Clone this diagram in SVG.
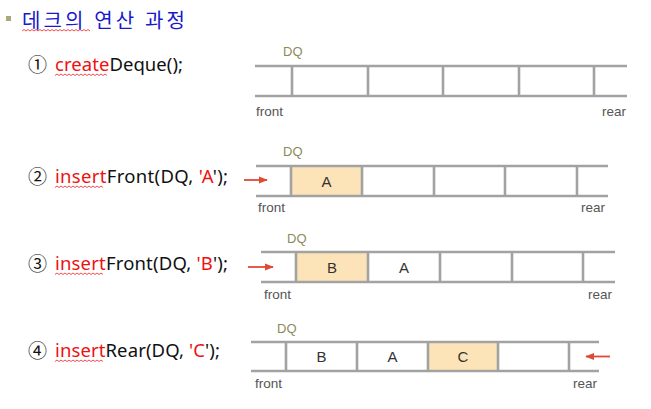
<svg xmlns="http://www.w3.org/2000/svg" width="651" height="409" viewBox="0 0 651 409">
<defs>
<style>
.ln{stroke:#a2a2a2;stroke-width:2.6;fill:none}
.fill{fill:#fde4b8}
.cell{font-family:"Liberation Sans",Arial,sans-serif;font-size:15px;fill:#333;text-anchor:middle}
.dq{font-family:"Liberation Sans",Arial,sans-serif;font-size:13px;fill:#8b8b5a}
.lab{font-family:"Liberation Sans",Arial,sans-serif;font-size:13.5px;fill:#555}
.code{font-family:"Noto Sans","Noto Sans CJK KR",sans-serif;font-size:18.5px;fill:#111}
.num{font-family:"Noto Sans CJK KR","DejaVu Sans",sans-serif;font-size:19px;fill:#111}
.red{fill:#ee1111}
.sq{stroke:#ee2222;stroke-width:0.8;fill:none}
.arr{stroke:#e04a35;stroke-width:1.8;fill:none}
</style>
<marker id="ah" viewBox="0 0 10 10" refX="9" refY="5" markerWidth="5" markerHeight="5" orient="auto">
<path d="M0,1 L10,5 L0,9 Z" fill="#e04a35"/>
</marker>
</defs>
<rect width="651" height="409" fill="#fff"/>

<g id="title">
<rect x="6" y="16" width="5" height="5" fill="#a9a97a"/>
<text x="22" y="28" font-family="Noto Sans CJK KR,sans-serif" font-size="20" fill="#1818cc" textLength="163" lengthAdjust="spacing">데크의 연산 과정</text>
<path class="sq" d="M22,31 l2,-1.5 l2,1.5 l2,-1.5 l2,1.5 l2,-1.5 l2,1.5 l2,-1.5 l2,1.5 l2,-1.5 l2,1.5 l2,-1.5 l2,1.5 l2,-1.5 l2,1.5 l2,-1.5 l2,1.5 l2,-1.5 l2,1.5 l2,-1.5 l2,1.5 l2,-1.5 l2,1.5 l2,-1.5 l2,1.5 l2,-1.5 l2,1.5 l2,-1.5 l2,1.5 l2,-1.5 l2,1.5 l2,-1.5 l2,1.5 l2,-1.5 l2,1.5"/>
</g>

<g id="step1-label">
<text class="num" x="28" y="72">①</text>
<text class="code" x="55" y="71" textLength="128" lengthAdjust="spacing"><tspan class="red">create</tspan>Deque();</text>
<path class="sq" d="M55,75.5 l2,-1.5 l2,1.5 l2,-1.5 l2,1.5 l2,-1.5 l2,1.5 l2,-1.5 l2,1.5 l2,-1.5 l2,1.5 l2,-1.5 l2,1.5 l2,-1.5 l2,1.5 l2,-1.5 l2,1.5 l2,-1.5 l2,1.5 l2,-1.5 l2,1.5 l2,-1.5 l2,1.5 l2,-1.5 l2,1.5 l2,-1.5 l2,1.5"/>
</g>
<g id="step2-label">
<text class="num" x="28" y="184">②</text>
<text class="code" x="55" y="183" textLength="173" lengthAdjust="spacing"><tspan class="red">insert</tspan>Front(DQ, <tspan class="red">'A</tspan>');</text>
<path class="sq" d="M55,187.5 l2,-1.5 l2,1.5 l2,-1.5 l2,1.5 l2,-1.5 l2,1.5 l2,-1.5 l2,1.5 l2,-1.5 l2,1.5 l2,-1.5 l2,1.5 l2,-1.5 l2,1.5 l2,-1.5 l2,1.5 l2,-1.5 l2,1.5 l2,-1.5 l2,1.5 l2,-1.5 l2,1.5 l2,-1.5 l2,1.5"/>
</g>
<g id="step3-label">
<text class="num" x="28" y="271">③</text>
<text class="code" x="55" y="270" textLength="173" lengthAdjust="spacing"><tspan class="red">insert</tspan>Front(DQ, <tspan class="red">'B</tspan>');</text>
<path class="sq" d="M55,274.5 l2,-1.5 l2,1.5 l2,-1.5 l2,1.5 l2,-1.5 l2,1.5 l2,-1.5 l2,1.5 l2,-1.5 l2,1.5 l2,-1.5 l2,1.5 l2,-1.5 l2,1.5 l2,-1.5 l2,1.5 l2,-1.5 l2,1.5 l2,-1.5 l2,1.5 l2,-1.5 l2,1.5 l2,-1.5 l2,1.5"/>
</g>
<g id="step4-label">
<text class="num" x="28" y="358">④</text>
<text class="code" x="55" y="357" textLength="165" lengthAdjust="spacing"><tspan class="red">insert</tspan>Rear(DQ, <tspan class="red">'C</tspan>');</text>
<path class="sq" d="M55,361.5 l2,-1.5 l2,1.5 l2,-1.5 l2,1.5 l2,-1.5 l2,1.5 l2,-1.5 l2,1.5 l2,-1.5 l2,1.5 l2,-1.5 l2,1.5 l2,-1.5 l2,1.5 l2,-1.5 l2,1.5 l2,-1.5 l2,1.5 l2,-1.5 l2,1.5 l2,-1.5 l2,1.5 l2,-1.5 l2,1.5"/>
</g>

<g id="deque1">
<text class="dq" x="283" y="56">DQ</text>
<path class="ln" d="M255,66 H627 M255,96 H627 M292,66 V96 M368,66 V96 M443,66 V96 M519,66 V96 M594,66 V96"/>
<text class="lab" x="256" y="116">front</text>
<text class="lab" x="626" y="116" text-anchor="end">rear</text>
</g>

<g id="deque2">
<text class="dq" x="283" y="156">DQ</text>
<rect class="fill" x="291" y="166" width="71" height="30"/>
<path class="ln" d="M256,166 H608 M256,196 H608 M291,166 V196 M362,166 V196 M434,166 V196 M505,166 V196 M577,166 V196"/>
<text class="cell" x="326.5" y="186.5">A</text>
<text class="lab" x="258" y="212">front</text>
<text class="lab" x="605" y="212" text-anchor="end">rear</text>
</g>

<g id="deque3">
<text class="dq" x="287" y="243">DQ</text>
<rect class="fill" x="296" y="252" width="72" height="30"/>
<path class="ln" d="M261,252 H615 M261,282 H615 M296,252 V282 M368,252 V282 M440,252 V282 M512,252 V282 M583,252 V282"/>
<text class="cell" x="332" y="272.5">B</text>
<text class="cell" x="404" y="272.5">A</text>
<text class="lab" x="264" y="299">front</text>
<text class="lab" x="612" y="299" text-anchor="end">rear</text>
</g>

<g id="deque4">
<text class="dq" x="277" y="333">DQ</text>
<rect class="fill" x="428" y="342" width="70" height="29"/>
<path class="ln" d="M251,342 H599 M251,371 H599 M286,342 V371 M357,342 V371 M428,342 V371 M498,342 V371 M569,342 V371"/>
<text class="cell" x="321.5" y="362">B</text>
<text class="cell" x="392.5" y="362">A</text>
<text class="cell" x="463" y="362">C</text>
<text class="lab" x="255" y="388">front</text>
<text class="lab" x="597" y="388" text-anchor="end">rear</text>
</g>

<g id="connectors">
<line class="arr" x1="244" y1="180" x2="267" y2="180" marker-end="url(#ah)"/>
<line class="arr" x1="248" y1="267" x2="273" y2="267" marker-end="url(#ah)"/>
<line class="arr" x1="610" y1="356.5" x2="586" y2="356.5" marker-end="url(#ah)"/>
</g>
</svg>
